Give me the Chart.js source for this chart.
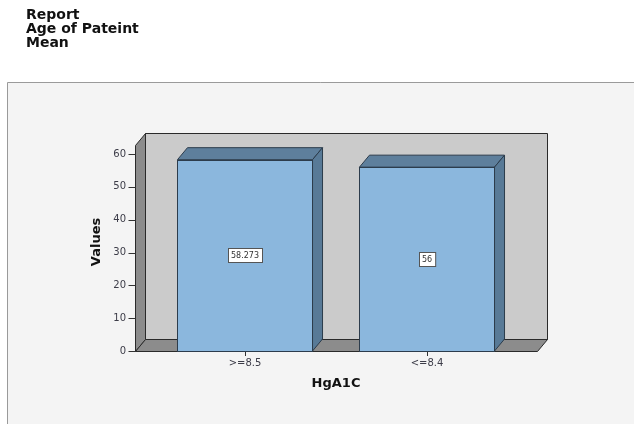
<!DOCTYPE html>
<html><head><meta charset="utf-8">
<script src="https://cdn.jsdelivr.net/npm/chart.js@4.4.1/dist/chart.umd.min.js"></script>
<style>
html,body{margin:0;padding:0;background:#fff;width:634px;height:424px;overflow:hidden}
#wrap{position:relative;width:634px;height:424px}
canvas{position:absolute;left:0;top:0}
#hdr{position:absolute;left:26px;top:7px;font:bold 14px/14px "DejaVu Sans",sans-serif;color:#111}
</style></head><body>
<div id="wrap"><canvas id="c" width="634" height="424"></canvas>
<div id="hdr">Report<br>Age of Pateint<br>Mean</div></div>
<script>
const categories = ['>=8.5', '<=8.4'];
const meanAge = [58.273, 56];
const valueLabels = ['58.273', '56'];
const yTicks = [0, 10, 20, 30, 40, 50, 60];
const yMax = 66.4;

const DX = 10, DY = 12;
const threeD = {
  id: 'threeD',
  beforeDraw(chart) {
    const ctx = chart.ctx;
    ctx.save();
    ctx.fillStyle = '#f4f4f4';
    ctx.fillRect(7, 82, 634 - 7, 424 - 82);
    ctx.strokeStyle = '#9a9a9a';
    ctx.lineWidth = 1;
    ctx.beginPath();
    ctx.moveTo(7.5, 424); ctx.lineTo(7.5, 82.5); ctx.lineTo(634, 82.5);
    ctx.stroke();
    ctx.restore();
  },
  beforeDatasetsDraw(chart) {
    const ctx = chart.ctx, a = chart.chartArea, ys = chart.scales.y;
    const cat = (a.right - a.left) / categories.length;
    const ext = cat * 0.105;
    const L = Math.round(a.left - ext) + 0.5, R = Math.round(a.right + ext) + 0.5;
    const T = Math.round(a.top) + 0.5, B = Math.round(a.bottom) + 0.5;
    ctx.save();
    ctx.lineWidth = 1;
    ctx.strokeStyle = '#2a2a2a';
    ctx.fillStyle = '#cbcbcb';
    ctx.beginPath();
    ctx.rect(L + DX, T, R - L, B - DY - T);
    ctx.fill(); ctx.stroke();
    ctx.fillStyle = '#8c8c8c';
    ctx.beginPath();
    ctx.moveTo(L, B); ctx.lineTo(L, T + DY); ctx.lineTo(L + DX, T); ctx.lineTo(L + DX, B - DY); ctx.closePath();
    ctx.fill(); ctx.stroke();
    ctx.beginPath();
    ctx.moveTo(L, B); ctx.lineTo(R, B); ctx.lineTo(R + DX, B - DY); ctx.lineTo(L + DX, B - DY); ctx.closePath();
    ctx.fill(); ctx.stroke();
    ctx.strokeStyle = '#333';
    ys.ticks.forEach(t => {
      const y = Math.round(ys.getPixelForValue(t.value)) + 0.5;
      ctx.beginPath(); ctx.moveTo(L - 7, y); ctx.lineTo(L, y); ctx.stroke();
    });
    ctx.restore();
  },
  afterDatasetsDraw(chart) {
    const ctx = chart.ctx, ys = chart.scales.y;
    const meta = chart.getDatasetMeta(0);
    ctx.save();
    ctx.lineWidth = 1;
    ctx.strokeStyle = '#2c3c4c';
    meta.data.forEach((bar) => {
      const l = bar.x - bar.width / 2, r = bar.x + bar.width / 2, y = bar.y, b = bar.base;
      ctx.fillStyle = '#5e7f9c';
      ctx.beginPath();
      ctx.moveTo(l, y); ctx.lineTo(l + DX, y - DY); ctx.lineTo(r + DX, y - DY); ctx.lineTo(r, y); ctx.closePath();
      ctx.fill(); ctx.stroke();
      ctx.fillStyle = '#587a97';
      ctx.beginPath();
      ctx.moveTo(r, y); ctx.lineTo(r + DX, y - DY); ctx.lineTo(r + DX, b - DY); ctx.lineTo(r, b); ctx.closePath();
      ctx.fill(); ctx.stroke();
      ctx.strokeRect(Math.round(l) + 0.5, Math.round(y) + 0.5, Math.round(r - l), Math.round(b - y));
    });
    ctx.font = '8px "DejaVu Sans", sans-serif';
    ctx.textAlign = 'center';
    ctx.textBaseline = 'middle';
    meta.data.forEach((bar, i) => {
      const cy = ys.getPixelForValue(meanAge[i] / 2);
      const w = ctx.measureText(valueLabels[i]).width + 6, h = 14;
      const bx = Math.round(bar.x - w / 2) + 0.5, by = Math.round(cy - h / 2) + 0.5;
      ctx.fillStyle = '#ffffff';
      ctx.strokeStyle = '#555';
      ctx.fillRect(bx, by, w, h);
      ctx.strokeRect(bx, by, w, h);
      ctx.fillStyle = '#333';
      ctx.fillText(valueLabels[i], bar.x, cy + 0.5);
    });
    ctx.restore();
  }
};

new Chart(document.getElementById('c'), {
  type: 'bar',
  data: {
    labels: categories,
    datasets: [{
      data: meanAge,
      backgroundColor: '#8bb7dd',
      borderColor: '#2c3c4c',
      borderWidth: 0,
      categoryPercentage: 1,
      barPercentage: 0.742
    }]
  },
  options: {
    responsive: false,
    animation: false,
    events: [],
    layout: { padding: { top: 133, right: 116, bottom: 0, left: 0 } },
    plugins: { legend: { display: false }, tooltip: { enabled: false } },
    scales: {
      x: {
        afterFit(s) { s.height = 73; },
        grid: { offset: false, drawOnChartArea: false, drawTicks: true, tickLength: 5, color: '#333' },
        border: { display: false },
        ticks: { color: '#3c3c48', font: { family: 'DejaVu Sans', size: 10 }, padding: 1 },
        title: { display: true, text: 'HgA1C', color: '#111', font: { family: 'DejaVu Sans', size: 13, weight: 'bold' }, padding: { top: 0, bottom: 33 } }
      },
      y: {
        min: 0, max: yMax,
        afterFit(s) { s.width = 154; },
        afterBuildTicks(s) { s.ticks = yTicks.map(v => ({ value: v })); },
        grid: { display: false },
        border: { display: false },
        ticks: { color: '#3c3c48', font: { family: 'DejaVu Sans', size: 10 }, padding: 20 },
        title: { display: true, text: 'Values', color: '#111', font: { family: 'DejaVu Sans', size: 13, weight: 'bold' }, padding: { top: 89, bottom: 0 } }
      }
    }
  },
  plugins: [threeD]
});
</script>
</body></html>
